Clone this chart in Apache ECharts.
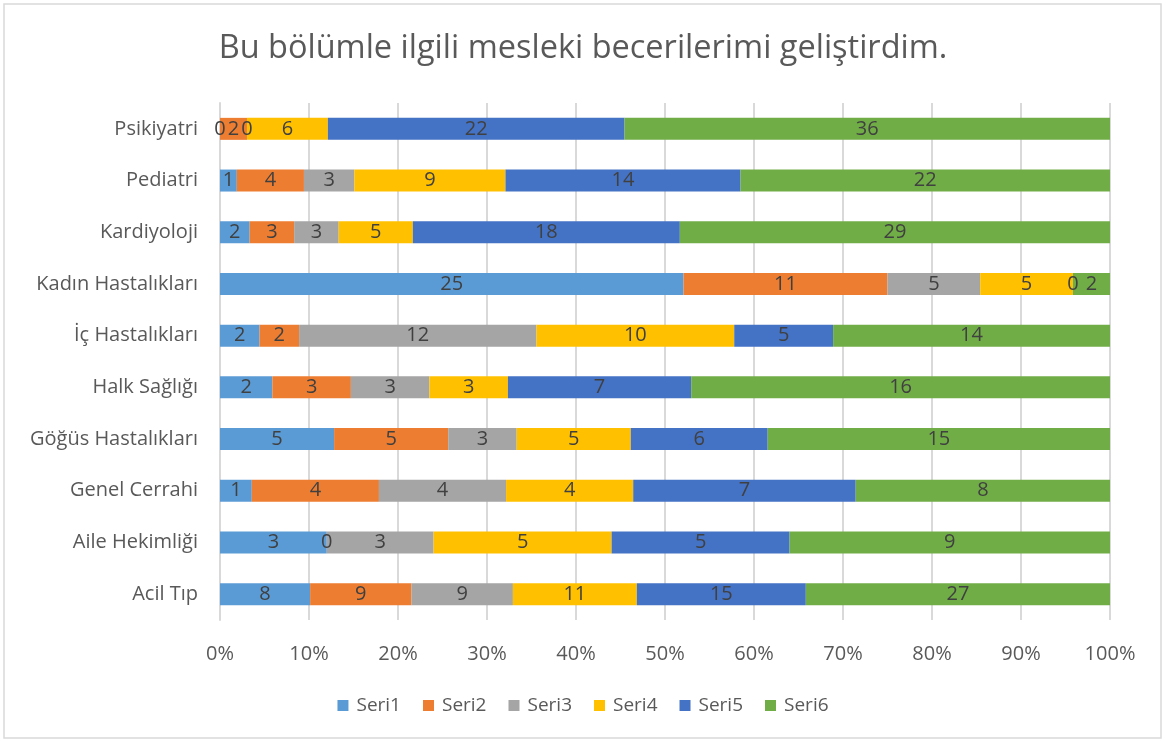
<!DOCTYPE html>
<html>
<head>
<meta charset="utf-8">
<script src="https://cdn.jsdelivr.net/npm/echarts@6/dist/echarts.min.js"></script>
<style>
  html, body { margin: 0; padding: 0; background: #fff; }
  #chart { width: 1166px; height: 743px; }
</style>
</head>
<body>
<div id="chart"></div>
<script>
// kategoriler (alttan üste)
var categories = ['Acil Tıp', 'Aile Hekimliği', 'Genel Cerrahi', 'Göğüs Hastalıkları', 'Halk Sağlığı',
                  'İç Hastalıkları', 'Kadın Hastalıkları', 'Kardiyoloji', 'Pediatri', 'Psikiyatri'];
var seri1 = [8, 3, 1, 5, 2, 2, 25, 2, 1, 0];
var seri2 = [9, 0, 4, 5, 3, 2, 11, 3, 4, 2];
var seri3 = [9, 3, 4, 3, 3, 12, 5, 3, 3, 0];
var seri4 = [11, 5, 4, 5, 3, 10, 5, 5, 9, 6];
var seri5 = [15, 5, 7, 6, 7, 5, 0, 18, 14, 22];
var seri6 = [27, 9, 8, 15, 16, 14, 2, 29, 22, 36];
var seriNames = ['Seri1', 'Seri2', 'Seri3', 'Seri4', 'Seri5', 'Seri6'];
var colors = ['#5B9BD5', '#ED7D31', '#A5A5A5', '#FFC000', '#4472C4', '#70AD47'];

var all = [seri1, seri2, seri3, seri4, seri5, seri6];
var totals = categories.map((c, i) => all.reduce((s, a) => s + a[i], 0));

var myChart = echarts.init(document.getElementById('chart'));
var fontFam = '"Open Sans", "Noto Sans", sans-serif';

var series = all.map((arr, k) => ({
    name: seriNames[k],
    type: 'bar',
    stack: 'total',
    barWidth: 22,
    itemStyle: { color: colors[k] },
    label: {
        show: true,
        position: 'inside',
        color: '#404040',
        fontSize: 20,
        fontFamily: fontFam,
        formatter: p => arr[p.dataIndex]
    },
    data: arr.map((v, i) => v / totals[i] * 100)
}));

var option = {
    animation: false,
    textStyle: { fontFamily: fontFam },
    title: {
        text: 'Bu bölümle ilgili mesleki becerilerimi geliştirdim.',
        left: 'center',
        top: 27,
        textStyle: { fontSize: 32.5, fontWeight: 'normal', color: '#595959', fontFamily: fontFam }
    },
    legend: {
        bottom: 23,
        left: 'center',
        itemWidth: 11,
        itemHeight: 11,
        itemGap: 22,
        icon: 'rect',
        textStyle: { fontSize: 19, color: '#595959', fontFamily: fontFam, padding: [0, 0, 0, 3] },
        data: seriNames
    },
    grid: { left: 220, right: 56, top: 103, bottom: 123, containLabel: false },
    xAxis: {
        type: 'value',
        min: 0,
        max: 100,
        interval: 10,
        axisLabel: { formatter: '{value}%', fontSize: 20, color: '#595959', margin: 24 },
        axisLine: { show: false },
        axisTick: { show: false },
        splitLine: { lineStyle: { color: '#D9D9D9', width: 2 } }
    },
    yAxis: {
        type: 'category',
        data: categories,
        axisLine: { lineStyle: { color: '#D9D9D9', width: 2 } },
        axisTick: { show: false },
        axisLabel: { fontSize: 20, color: '#595959', margin: 22 }
    },
    graphic: [{
        type: 'rect',
        shape: { x: 4, y: 4, width: 1157, height: 734 },
        style: { fill: 'none', stroke: '#D9D9D9', lineWidth: 1.5 },
        silent: true
    }],
    series: series
};

myChart.setOption(option);
</script>
</body>
</html>
